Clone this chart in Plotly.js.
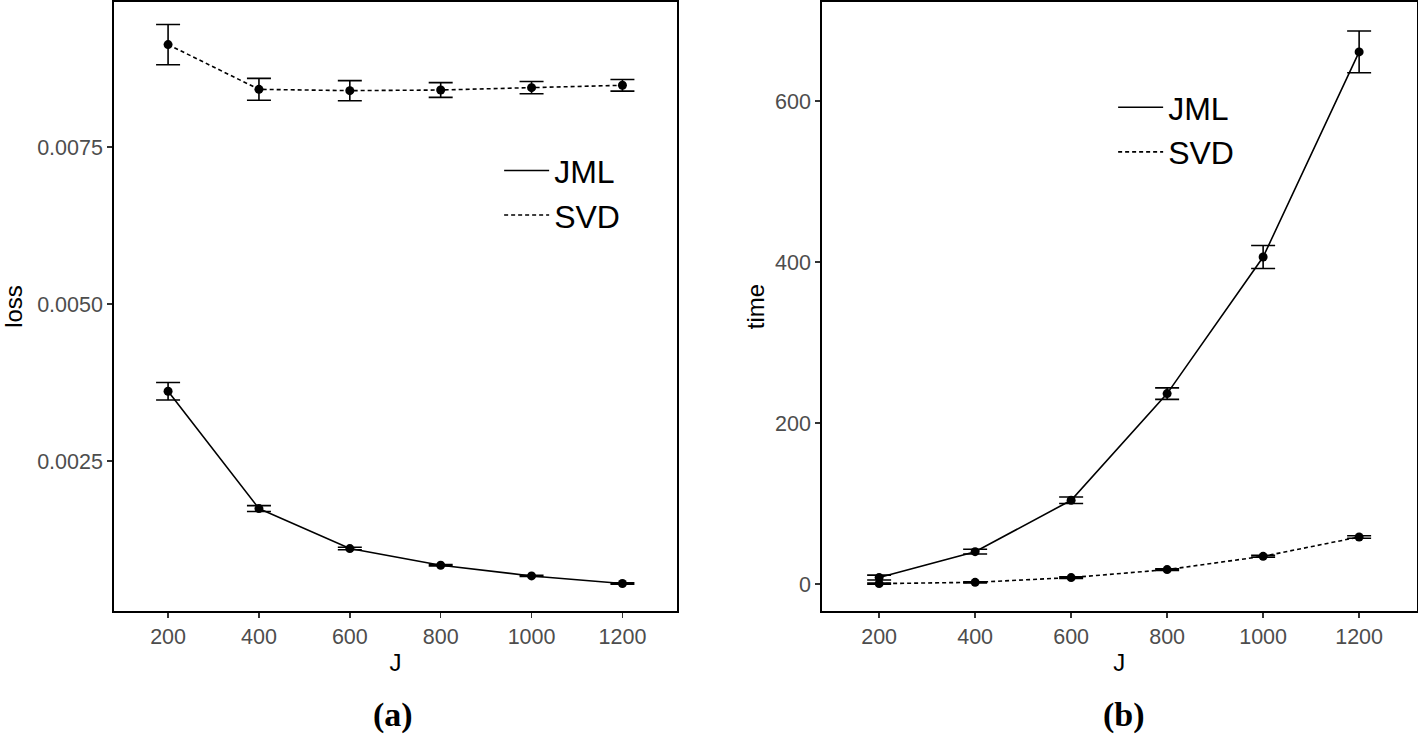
<!DOCTYPE html>
<html>
<head>
<meta charset="utf-8">
<script src="https://cdn.plot.ly/plotly-3.0.1.min.js"></script>
<style>
  html, body { margin: 0; padding: 0; background: #fff; }
  #plot { width: 1418px; height: 734px; }
</style>
</head>
<body>
<div id="plot"></div>
<script>
// J values shared by both panels
var J = [200, 400, 600, 800, 1000, 1200];

// (a) loss
var lossJML = [0.00361, 0.001742, 0.001105, 0.000839, 0.000669, 0.000548];
var lossJMLErr = [0.000139, 0.000047, 0.00002, 0.000012, 0.00001, 0.00001];
var lossSVD = [0.009131, 0.008419, 0.008398, 0.008408, 0.008446, 0.008483];
var lossSVDErr = [0.00032, 0.000175, 0.00016, 0.000117, 0.000098, 0.000093];

// (b) time
var timeJML = [8, 40.2, 104, 236.5, 406.2, 661];
var timeJMLErr = [3, 3, 4, 7.2, 14.3, 26];
var timeSVD = [0.5, 2.1, 8, 17.9, 34.4, 58.4];
var timeSVDErr = [0.8, 0.8, 1, 1, 1.2, 1.5];

var yTicksA = [0.0025, 0.005, 0.0075];
var yTickTextA = ["0.0025", "0.0050", "0.0075"];
var yTicksB = [0, 200, 400, 600];

function lineTrace(y, name, dash, xa, ya, leg) {
  return {
    x: J, y: y, name: name, mode: "lines", type: "scatter",
    line: {color: "black", width: 1.6, dash: dash},
    xaxis: xa, yaxis: ya, legend: leg, showlegend: true
  };
}
function pointTrace(y, err, xa, ya) {
  return {
    x: J, y: y, mode: "markers", type: "scatter",
    marker: {color: "black", size: 9},
    error_y: {type: "data", array: err, visible: true, color: "black", thickness: 1.6, width: 12},
    xaxis: xa, yaxis: ya, showlegend: false, hoverinfo: "x+y"
  };
}

var data = [
  lineTrace(lossJML, "JML", "solid", "x", "y", "legend"),
  lineTrace(lossSVD, "SVD", "4px,3px", "x", "y", "legend"),
  pointTrace(lossJML, lossJMLErr, "x", "y"),
  pointTrace(lossSVD, lossSVDErr, "x", "y"),
  lineTrace(timeJML, "JML", "solid", "x2", "y2", "legend2"),
  lineTrace(timeSVD, "SVD", "4px,3px", "x2", "y2", "legend2"),
  pointTrace(timeJML, timeJMLErr, "x2", "y2"),
  pointTrace(timeSVD, timeSVDErr, "x2", "y2")
];

var tickFont = {family: "Liberation Sans, Arial, sans-serif", size: 21.5, color: "#4d4d4d"};
var titleFont = {family: "Liberation Sans, Arial, sans-serif", size: 24, color: "black"};

function xAxis(domain, anchor) {
  return {
    domain: domain, anchor: anchor, range: [81, 1320],
    tickvals: J, ticks: "outside", ticklen: 5, tickwidth: 1.5, tickcolor: "#333",
    tickfont: tickFont, showgrid: false, zeroline: false,
    showline: true, mirror: true, linecolor: "black", linewidth: 1.8,
    title: {text: "J", font: titleFont, standoff: 7}
  };
}
function yAxis(range, vals, text, title, anchor, standoff) {
  return {
    domain: [0.1676, 0.9973], anchor: anchor, range: range,
    tickvals: vals, ticktext: text, ticks: "outside", ticklen: 5, tickwidth: 1.5, tickcolor: "#333",
    tickfont: tickFont, showgrid: false, zeroline: false,
    showline: true, mirror: true, linecolor: "black", linewidth: 1.8,
    title: {text: title, font: titleFont, standoff: standoff}
  };
}

var legFont = {family: "Liberation Sans, Arial, sans-serif", size: 32, color: "black"};

var layout = {
  width: 1418, height: 734,
  margin: {l: 0, r: 0, t: 0, b: 0},
  paper_bgcolor: "white", plot_bgcolor: "white",
  xaxis: xAxis([0.0804, 0.4774], "y"),
  yaxis: yAxis([0.000111, 0.00981], yTicksA, yTickTextA, "loss", "x", 10),
  xaxis2: xAxis([0.5797, 0.9991], "y2"),
  yaxis2: yAxis([-33.5, 723], yTicksB, yTicksB.map(String), "time", "x2", 4),
  legend: {x: 0.352, y: 0.805, xanchor: "left", yanchor: "top", font: legFont,
           bgcolor: "rgba(0,0,0,0)", tracegroupgap: 0, itemwidth: 45},
  legend2: {x: 0.785, y: 0.891, xanchor: "left", yanchor: "top", font: legFont,
            bgcolor: "rgba(0,0,0,0)", tracegroupgap: 0, itemwidth: 45},
  annotations: [
    {text: "<b>(a)</b>", x: 0.277, y: 0.0259, xref: "paper", yref: "paper", showarrow: false,
     xanchor: "center", yanchor: "middle",
     font: {family: "Liberation Serif, Times New Roman, serif", size: 34, color: "black"}},
    {text: "<b>(b)</b>", x: 0.793, y: 0.0259, xref: "paper", yref: "paper", showarrow: false,
     xanchor: "center", yanchor: "middle",
     font: {family: "Liberation Serif, Times New Roman, serif", size: 34, color: "black"}}
  ],
  showlegend: true
};

Plotly.newPlot("plot", data, layout, {displayModeBar: false, staticPlot: true});
</script>
</body>
</html>
